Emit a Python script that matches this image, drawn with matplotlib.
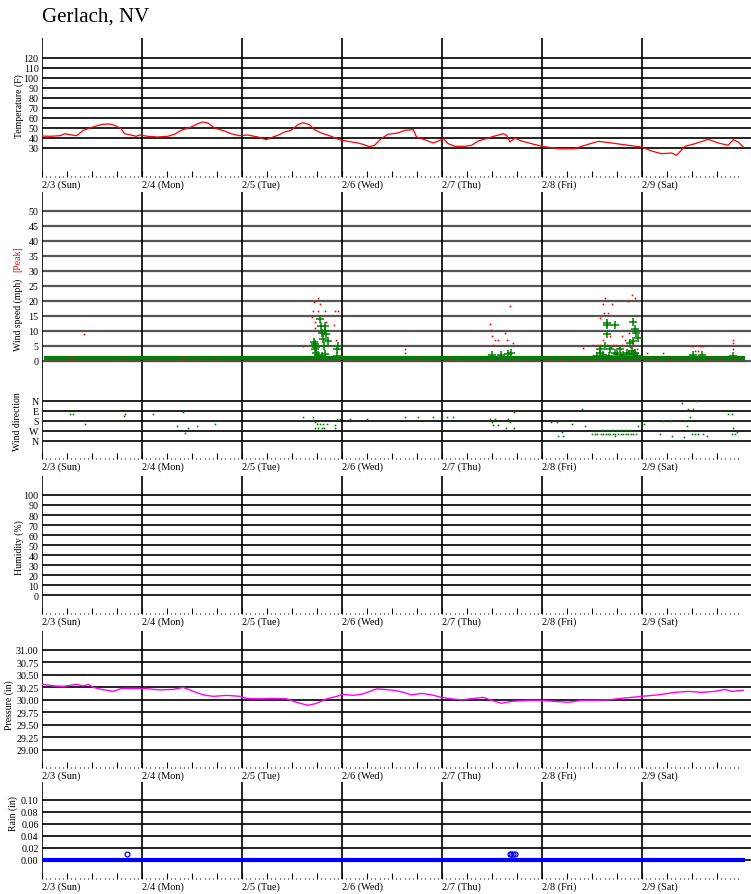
import matplotlib
matplotlib.use("Agg")
import matplotlib.pyplot as plt

plt.rcParams['font.family'] = ['Liberation Serif', 'DejaVu Serif']

# ------------------------------------------------------------
# data (hours since 2/3 00:00)
# ------------------------------------------------------------
day_labels = ['2/3 (Sun)', '2/4 (Mon)', '2/5 (Tue)', '2/6 (Wed)',
              '2/7 (Thu)', '2/8 (Fri)', '2/9 (Sat)']

temp_hours = [0, 1.9, 4.3, 5.5, 6.7, 8.3, 9.9, 11.5, 13.0, 14.6, 16.2, 17.4, 18.2,
              19.0, 19.8, 21.4, 22.6, 23.4, 25.4, 27.8, 30.2, 31.8, 33.4, 35.8, 37.4,
              38.6, 39.8, 41.4, 43.8, 45.4, 47.4, 49.4, 51.8, 53.8, 55.0, 56.6, 58.2,
              59.8, 61.4, 62.6, 64.2, 65.4, 67.0, 69.4, 71.4, 73.4, 75.8, 77.0, 78.6,
              79.8, 81.4, 83.0, 85.4, 87.1, 89.1, 89.9, 91.9, 93.9, 95.1, 96.3, 97.5,
              99.1, 101.5, 103.1, 104.7, 107.1, 108.7, 110.7, 111.5, 112.3, 113.5,
              115.1, 117.5, 119.9, 123.9, 127.9, 129.5, 133.5, 136.7, 140.7, 143.9,
              146.3, 148.7, 151.1, 152.3, 154.3, 156.7, 159.9, 162.3, 164.7, 165.9,
              167.1, 168.3]
temp_f = [42, 41.7, 42.3, 44.3, 43.3, 42.3, 47.7, 50, 52, 53.7, 54, 52.7, 51,
          49.3, 44.3, 43, 41.7, 43, 41.7, 41, 41.7, 43.7, 47.7, 51, 54.3,
          56, 55, 50, 47, 44.3, 42.3, 43, 41, 38.3, 40.3, 42.7, 46,
          47.7, 53.3, 55.3, 53.3, 48.3, 45, 41.7, 38.3, 36.7, 35, 33.7, 31.3,
          32.7, 39.3, 43.7, 45, 47.7, 48.3, 41, 38.3, 35, 37, 39.3, 34.3,
          31.7, 31.7, 32.7, 37, 40, 42, 44.3, 42.7, 36, 40,
          37, 34.3, 31.7, 29.3, 29.3, 31.7, 36.7, 35, 32.7, 31,
          27, 24.3, 25, 22.7, 31.7, 34.3, 38.7, 35, 32.7, 38.3,
          36, 31]

# calm readings form a solid band along the bottom of the wind chart
calm_span = [0.5, 168.7]
calm_mph = 1.1

speed_hours = [65.5, 65.5, 65.8, 66.6, 66.9, 67.1, 67.4, 67.7, 67.9, 67.9, 68.2, 68.7,
               67.1, 70.9, 71.1, 70.9, 65.3, 65.7, 66.2, 68.0,
               107.9, 110.1, 112.5, 111.9,
               135.7, 135.7, 137.5, 135.5, 141.9, 142.2, 142.5, 143.0, 141.0, 141.9,
               135.1, 136.3, 133.9, 138.7, 137.5, 140.3, 142.3, 133.1, 134.7, 139.5,
               142.7, 134.0, 136.0, 138.0, 139.0, 140.8, 141.5, 142.0,
               156.3, 158.3, 165.9]
speed_mph = [5.6, 3.9, 2.8, 13.9, 11.7, 9.4, 7.2, 5.1, 11.7, 10.0, 8.9, 6.7,
             1.7, 3.9, 5.0, 1.7, 6.2, 4.5, 2.0, 2.2,
             2.0, 2.0, 2.8, 2.2,
             12.8, 11.9, 11.9, 8.9, 13.0, 10.6, 9.4, 7.6, 6.1, 6.7,
             5.0, 3.9, 3.9, 3.9, 2.8, 2.8, 2.8, 1.7, 2.0, 2.0,
             1.7, 2.5, 1.8, 2.2, 1.5, 2.4, 3.2, 1.9,
             2.0, 2.0, 1.7]

peak_hours = [66.2, 65.3, 66.7, 65.0, 66.2, 67.9, 70.3, 71.0, 64.8, 65.5, 68.2, 70.1,
              62.6, 70.6, 65.5, 67.4, 10.1,
              107.4, 107.7, 107.9, 108.7, 109.5, 108.3, 112.2, 111.1, 111.5, 113.0,
              87.0, 87.1,
              135.2, 134.7, 136.9, 134.9, 135.9, 133.9, 141.5, 142.3, 140.7, 129.9,
              132.3, 133.9, 137.0, 140.4, 139.9, 134.7, 136.3, 139.1, 140.9,
              133.1, 134.0, 135.7, 136.5, 137.8, 138.5, 139.3, 141.2, 142.0, 142.8,
              155.9, 157.9, 158.7, 156.7, 157.5, 165.8, 165.8, 165.9, 149.1, 145.1,
              6.7, 7.4, 19.9, 26.6, 33.1, 33.8, 34.8, 37.2, 41.5, 89.9, 97.4,
              121.4, 124.8, 127.2, 130.1, 144.2, 147.1, 150.5, 153.4, 160.3, 162.7,
              166.1]
peak_mph = [21, 19.5, 19, 16.5, 16.5, 16.5, 16.5, 16.5, 14.5, 13, 13, 12,
            5, 7, 11, 9, 9.1,
            12.2, 10.2, 8.3, 7, 7, 5.4, 18.3, 9.2, 7, 6.1,
            3.9, 2.5,
            21.1, 19.1, 19.1, 16.1, 16.1, 14.2, 22.1, 21.1, 20, 4.2,
            5.3, 5.3, 5.3, 5.3, 7, 7, 8.3, 8.3, 9.4,
            5.3, 4.5, 5.3, 4.6, 5.3, 4.4, 5.3, 4.8, 5.3, 4.1,
            5, 5, 5, 3.2, 3.2, 7, 6, 3.9, 2.5, 2.5,
            1.2, 1.2, 1.2, 1.2, 1.2, 1.2, 1.2, 1.2, 1.2, 1.2, 1.2,
            1.2, 1.2, 1.2, 1.2, 1.2, 1.2, 1.2, 1.2, 1.2, 1.2,
            1.2]
# zero peaks drawn as a thin red line
peak_zero_span = [0.5, 168.7]

dir_hours = [6.7, 7.4, 10.2, 19.9, 19.7, 26.7, 33.8, 32.5, 34.3, 35.1, 37.1, 41.4,
             62.7, 65.0, 65.1, 65.5, 65.9, 66.7, 67.5, 68.3, 65.5, 66.3, 67.1, 67.7,
             70.2, 70.3, 70.7, 71.4, 73.8, 77.9,
             87.0, 90.2, 93.9, 95.9, 97.1, 98.7,
             107.5, 108.7, 107.9, 108.3, 109.4, 111.8, 112.2, 111.4, 113.3, 113.3,
             122.2, 123.5, 123.9, 125.0, 124.7, 127.3, 129.5, 130.3,
             132.1, 132.8, 133.2, 134.1, 134.6, 135.3, 135.8, 136.4, 137.1, 137.6,
             138.3, 138.9, 139.4, 140.2, 140.7, 141.3, 141.9, 142.6,
             134.5, 135.6, 136.8, 137.9, 139.0, 140.1, 141.2,
             137.5, 143.1, 144.5, 149.1, 150.7, 148.3, 151.1, 153.5, 157.0, 155.1,
             156.3, 155.5, 154.3, 154.7, 155.9, 156.7, 157.5, 158.7, 154.0, 159.5,
             164.7, 165.5, 165.9, 166.7, 165.5, 166.4]
dir_deg = [120, 120, 210, 120, 135, 120, 99, 231, 294, 249, 231, 210,
           144, 144, 171, 195, 210, 210, 210, 210, 249, 249, 249, 249,
           249, 219, 162, 162, 162, 162,
           144, 144, 144, 144, 144, 144,
           165, 165, 195, 219, 219, 165, 195, 249, 249, 99,
           189, 189, 321, 321, 279, 210, 75, 231,
           300, 300, 300, 300, 300, 300, 300, 300, 300, 300,
           300, 300, 300, 300, 300, 300, 300, 300,
           264, 264, 264, 264, 264, 264, 264,
           321, 231, 210, 186, 186, 300, 321, 24, 6, 75,
           75, 144, 186, 231, 300, 300, 300, 300, 330, 321,
           120, 120, 249, 279, 300, 300]

press_hours = [0.2, 2.7, 5.1, 8.3, 9.9, 11.1, 12.3, 14.3, 17.1, 19.1, 21.9, 24.3,
               28.3, 31.5, 33.9, 36.3, 38.7, 41.1, 44.3, 47.5, 49.1, 52.3, 55.5,
               58.7, 61.1, 63.9, 65.9, 68.3, 70.7, 72.3, 74.7, 77.1, 80.3, 83.5,
               85.9, 88.7, 91.1, 93.5, 95.9, 98.3, 100.7, 103.9, 105.9, 107.9,
               110.3, 112.7, 116.7, 119.9, 123.1, 126.3, 129.5, 132.7, 135.9,
               139.1, 143.9, 147.9, 151.9, 155.1, 158.3, 161.5, 163.9, 165.5, 168.3]
press_in = [30.31, 30.28, 30.27, 30.31, 30.28, 30.31, 30.25, 30.21, 30.17, 30.23, 30.23, 30.23,
            30.20, 30.21, 30.25, 30.17, 30.10, 30.07, 30.09, 30.07, 30.03, 30.02, 30.03,
            30.02, 29.95, 29.89, 29.93, 30.02, 30.07, 30.11, 30.09, 30.12, 30.22, 30.20,
            30.17, 30.10, 30.13, 30.10, 30.05, 30.02, 30.00, 30.03, 30.05, 29.99,
            29.93, 29.97, 29.99, 29.99, 29.97, 29.95, 29.99, 29.99, 30.00,
            30.03, 30.07, 30.10, 30.15, 30.17, 30.15, 30.17, 30.21, 30.17, 30.19]

rain_zero_span = [0.0, 168.7]
rain_hours = [20.4, 112.2, 112.6, 113.0, 113.4]
rain_in = [0.01, 0.01, 0.01, 0.01, 0.01]

# ------------------------------------------------------------
# layout helpers (pixel geometry of the original page)
# ------------------------------------------------------------
W, H = 751, 895
LEFT = 42
X_END = (W - LEFT) * 0.24

fig = plt.figure(figsize=(W / 100, H / 100), dpi=100)


def panel(top, bottom):
    return fig.add_axes([LEFT / W, 1 - bottom / H, 1 - LEFT / W, (bottom - top) / H])


def style(ax, ylim, yticks, ylabels, gcolor='#111111', glw=1.3):
    ax.set_xlim(0, X_END)
    ax.set_ylim(*ylim)
    for s in ax.spines.values():
        s.set_visible(False)
    ax.set_yticks(yticks)
    ax.set_yticklabels(ylabels)
    for y in yticks:
        ax.axhline(y, color=gcolor, lw=glw, zorder=1)
    for d in range(0, 168, 24):
        ax.axvline(d, color='black', lw=1.2, zorder=1)
    major = list(range(0, 163, 6))
    ax.set_xticks(major)
    ax.set_xticklabels([day_labels[h // 24] if h % 24 == 0 else '' for h in major],
                       ha='left')
    ax.set_xticks(range(0, 168), minor=True)
    ax.tick_params(axis='x', which='major', direction='in', length=4, width=0.8,
                   labelsize=7.4, pad=2)
    ax.tick_params(axis='x', which='minor', direction='in', length=1, width=0.8)
    ax.tick_params(axis='y', length=0, labelsize=7.2, pad=2.5)


def ylabel(x, y, text, color='black'):
    fig.text(x / W, 1 - y / H, text, rotation=90, ha='center', va='center',
             fontsize=7, color=color)


fig.text(LEFT / W, 1 - 17 / H, 'Gerlach, NV', fontsize=15, va='center')

# temperature
ax = panel(39, 178)
style(ax, (1, 140), list(range(30, 121, 10)), [str(v) for v in range(30, 121, 10)])
ax.plot(temp_hours, temp_f, color='red', lw=0.9, zorder=3)
ylabel(19, 106, 'Temperature (F)')

# wind speed + direction
ax = panel(193, 460)
style(ax, (-32.67, 56.33), list(range(0, 51, 5)), [str(v) for v in range(0, 51, 5)],
      gcolor='#555555', glw=1.6)
ax.hlines(calm_mph, *calm_span, color='green', lw=3, zorder=3)
ax.hlines(0, *peak_zero_span, color='red', lw=0.8, zorder=4)
ax.plot(peak_hours, peak_mph, 's', color='red', ms=1.2, mew=0, zorder=4)
ax.plot(speed_hours, speed_mph, '+', color='green', ms=5.5, mew=1.1, zorder=5)
ax2 = ax.twinx()
ax2.set_ylim(524.7, -1878)
for s in ax2.spines.values():
    s.set_visible(False)
ax2.yaxis.tick_left()
ax2.set_yticks([0, 90, 180, 270, 360])
ax2.set_yticklabels(['N', 'E', 'S', 'W', 'N'])
ax2.tick_params(axis='y', length=0, labelsize=7.2, pad=2.5)
for y in [0, 90, 180, 270, 360]:
    ax2.axhline(y, color='#111111', lw=1.3, zorder=1)
ax2.plot(dir_hours, dir_deg, 's', color='green', ms=1.2, mew=0, zorder=3)
ylabel(18, 315, 'Wind speed (mph)')
ylabel(18, 259, '[Peak]', color='red')
ylabel(18, 422, 'Wind direction')

# humidity (no readings)
ax = panel(477, 615)
style(ax, (-19, 119), list(range(0, 101, 10)), [str(v) for v in range(0, 101, 10)])
ylabel(19, 548, 'Humidity (%)')

# pressure
ax = panel(632, 769)
pt = [29.00, 29.25, 29.50, 29.75, 30.00, 30.25, 30.50, 30.75, 31.00]
style(ax, (28.634, 31.38), pt, ['%.2f' % v for v in pt])
ax.plot(press_hours, press_in, color='magenta', lw=1.0, zorder=3)
ylabel(9, 705, 'Pressure (in)')

# rain
ax = panel(783, 880)
rt = [0.0, 0.02, 0.04, 0.06, 0.08, 0.10]
style(ax, (-0.0322, 0.13), rt, ['%.2f' % v for v in rt])
ax.hlines(0, *rain_zero_span, color='blue', lw=3, zorder=3)
ax.plot(rain_hours, rain_in, 'o', mfc='none', mec='blue', ms=3.5, mew=0.9, zorder=4)
ylabel(13, 814, 'Rain (in)')

fig.savefig('out.png', dpi=100)
